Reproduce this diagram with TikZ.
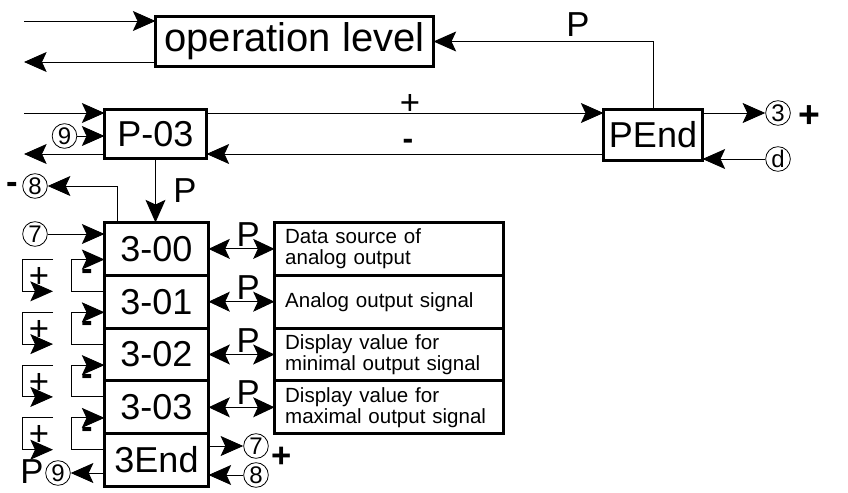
\documentclass[tikz,border=0pt]{standalone}
\usepackage{fontspec}
\setmainfont{Liberation Sans}
\usetikzlibrary{arrows.meta,positioning,calc}

\begin{document}
\begin{tikzpicture}[x=0.75pt,y=-0.75pt,
  box/.style={draw,line width=2.2pt,outer sep=0pt,inner sep=0pt,font=\fontsize{27}{28}\selectfont},
  stk/.style={box,minimum width=78pt,minimum height=39.6pt},
  desc/.style={draw,line width=2.2pt,outer sep=0pt,align=left,inner xsep=8pt,inner ysep=2pt,text width=156pt,minimum height=39.6pt,font=\fontsize{15.4}{15.8}\selectfont},
  num/.style={draw,circle,line width=0.6pt,inner sep=0pt,minimum size=18.5pt,font=\fontsize{18}{18}\selectfont},
  lbl/.style={inner sep=0pt,font=\fontsize{26}{26}\selectfont},
  con/.style={line width=0.7pt,-{Stealth[length=17pt,width=15pt,inset=3.5pt]}},
  dbl/.style={line width=0.7pt,{Stealth[length=16pt,width=15pt,inset=3.5pt]}-{Stealth[length=16pt,width=15pt,inset=3.5pt]}}]
  \useasboundingbox (0,0) rectangle (848,492);

  % main boxes
  \node[box,minimum width=208.5pt,minimum height=37.5pt,font=\fontsize{30}{32}\selectfont] (opl) at (294.5,41.5) {operation level};
  \node[box,minimum width=76.5pt,minimum height=36.75pt] (p03) at (155.5,134) {P-03};
  \node[box,minimum width=74.25pt,minimum height=38.25pt] (pend) at (653,135) {PEnd};

  % parameter stack
  \node[stk] (s300) at (156.5,248.9) {3-00};
  \node[stk,below=0pt of s300] (s301) {3-01};
  \node[stk,below=0pt of s301] (s302) {3-02};
  \node[stk,below=0pt of s302] (s303) {3-03};
  \node[stk,below=0pt of s303] (s3end) {3End};

  \node[desc,right=49.5pt of s300] (d300) {Data source of\\analog output};
  \node[desc,right=49.5pt of s301] (d301) {Analog output signal};
  \node[desc,right=49.5pt of s302] (d302) {Display value for\\minimal output signal};
  \node[desc,right=49.5pt of s303] (d303) {Display value for\\maximal output signal};

  % circled marks
  \node[num] (c9a) at (64.5,136) {9};
  \node[num] (c3) at (778,113) {3};
  \node[num] (cd) at (778,159) {d};
  \node[num] (c8a) at (35,186) {8};
  \node[num] (c7a) at (35,234) {7};
  \node[num] (c7b) at (256,446) {7};
  \node[num] (c8b) at (256,475) {8};
  \node[num] (c9b) at (58,473) {9};

  % labels
  \node[lbl] (lpop) at (578,25) {P};
  \node[lbl] (lplus) at (410,104) {+};
  \node[lbl,font=\bfseries\fontsize{24}{24}\selectfont] (lminus) at (408,144) {-};
  \node[lbl,font=\bfseries\fontsize{28}{28}\selectfont] (lplus3) at (809,117) {+};
  \node[lbl,font=\bfseries\fontsize{26}{26}\selectfont] (lminus8) at (12,188) {-};
  \node[lbl] (lp03) at (185,191) {P};
  \node[lbl,font=\bfseries\fontsize{26}{26}\selectfont] (lplus7) at (282,457) {+};
  \node[lbl] (lp9) at (32,472) {P};

  % connectors, top part
  \coordinate (inop) at (24,21);
  \coordinate (outop) at (24,62);
  \coordinate (inp03) at (24,113);
  \coordinate (outp03) at (24,154);
  \draw[con] (inop) -- (inop -| opl.west);
  \draw[con] (opl.west |- outop) -- (outop);
  \draw[con] (inp03) -- (inp03 -| p03.west);
  \draw[con] (p03.west |- outp03) -- (outp03);
  \draw[con] (c9a) -- (c9a -| p03.west);
  \draw[con] (p03.east |- inp03) -- (pend.west |- inp03);
  \draw[con] (pend.west |- outp03) -- (p03.east |- outp03);
  \draw[con] (pend.north) |- (opl.east);
  \draw[con] (pend.east |- c3) -- (c3);
  \draw[con] (cd) -- (pend.east |- cd);
  \draw[con] (p03.south) -- (p03.south |- s300.north);
  \draw[con] ([xshift=-29pt]s300.north) |- (c8a);
  \draw[con] (c7a) -- (c7a -| s300.west);

  % + / - loops
  \foreach \a/\b in {s300/s301,s301/s302,s302/s303,s303/s3end}{
    \draw[con] ($(\b.north west)+(0,16)$) -- ++(-33.5,0) |- ($(\a.north west)+(0,37)$);
    \draw[con] ($(\a.north west)+(-51.5,37)$) -- ++(-31,0) |- ($(\b.north west)+(-51.5,16)$);
    \node[lbl,font=\bfseries\fontsize{26}{26}\selectfont] (m\a) at ($(\a.north west)+(-17,52)$) {-};
    \node[lbl] (p\a) at ($(\a.north west)+(-65.5,55)$) {+};
  }

  % P links to descriptions
  \foreach \s/\d in {s300/d300,s301/d301,s302/d302,s303/d303}
    \draw[dbl] (\s.east) -- node[lbl,above=1.5pt,pos=0.6] (l\s) {P} (\d.west);

  % bottom
  \draw[con] (s3end.east |- c7b) -- (c7b);
  \draw[con] (c8b) -- (s3end.east |- c8b);
  \draw[con] (s3end.west |- c9b) -- (c9b);
\end{tikzpicture}
\end{document}
